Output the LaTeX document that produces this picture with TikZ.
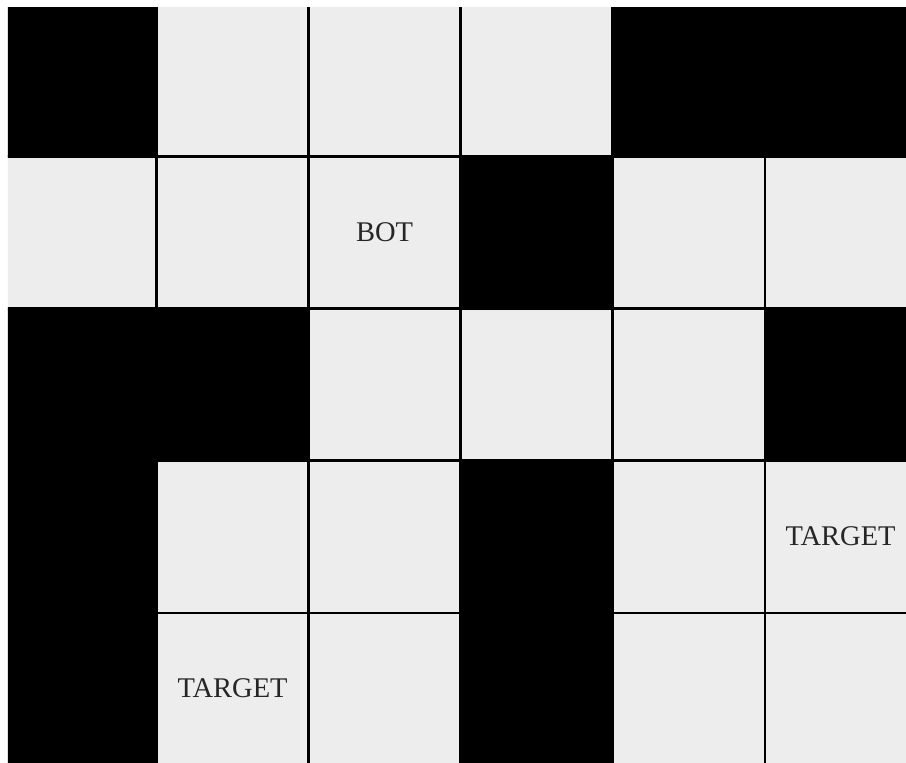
\documentclass[tikz,border=0pt]{standalone}
\usepackage{fontspec}
\setmainfont{Liberation Serif}
\usetikzlibrary{positioning}
\definecolor{cellgray}{RGB}{237,237,237}

\begin{document}
\begin{tikzpicture}[x=3cm, y=-3cm,
        every node/.style={font=\fontsize{16}{19}\selectfont, text=black!85},
        free/.style={draw=black, line width=1.2pt, fill=cellgray},
        wall/.style={fill=black}]
      \useasboundingbox (0,0) rectangle (5.9605,5.0132);
      \begin{scope}
        \clip (0.0526,0.0526) rectangle (5.9605,5.0132);
        % 1 = wall, 0 = free cell
        \foreach \r/\row in {0/{1,0,0,0,1,1}, 1/{0,0,0,1,0,0}, 2/{1,1,0,0,0,1},
                              3/{1,0,0,1,0,0}, 4/{1,0,0,1,0,0}} {
          \foreach \w [count=\c from 0] in \row {
            \ifnum\w=1
              \fill[wall] (\c+0.03,\r+0.03) rectangle ++(1,1);
            \else
              \draw[free] (\c+0.03,\r+0.03) rectangle ++(1,1);
            \fi
          }
        }
      \end{scope}
      \node (bot) at (2.53,1.53) {BOT};
      \node (target1) at (5.53,3.53) {TARGET};
      \node (target2) at (1.53,4.53) {TARGET};
    \end{tikzpicture}
\end{document}
